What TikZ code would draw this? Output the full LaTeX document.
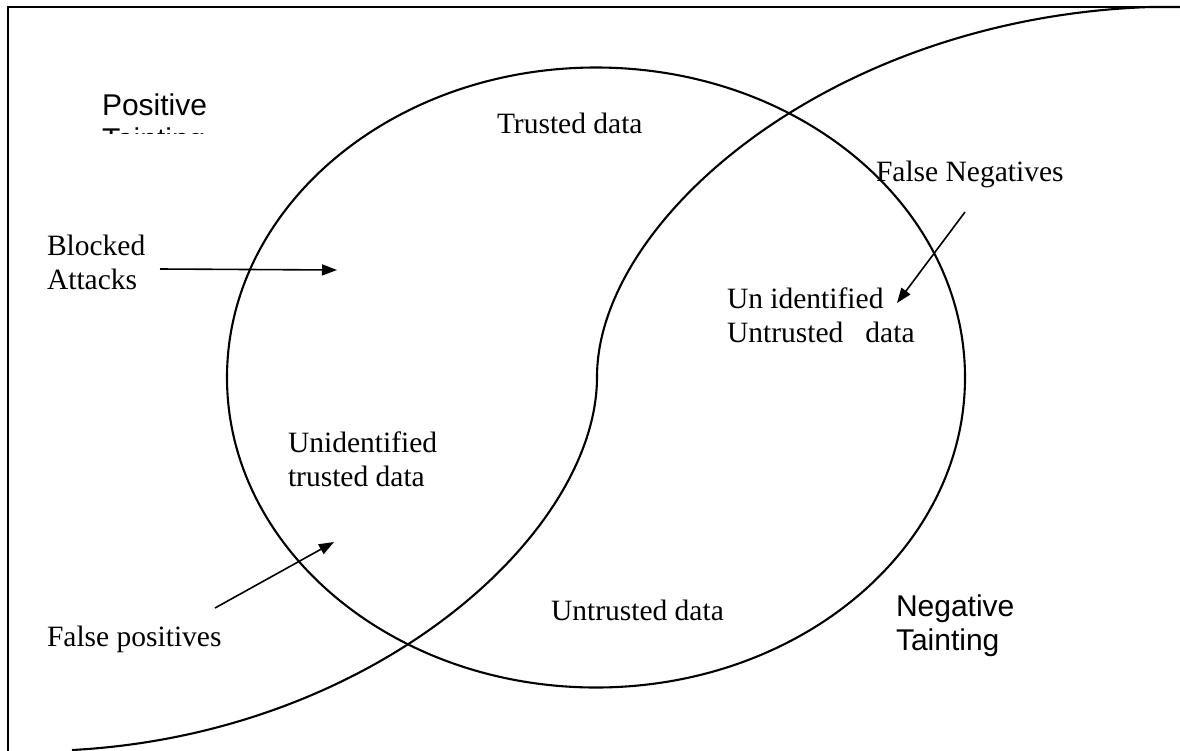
\documentclass[tikz,border=0pt]{standalone}
\usepackage{fontspec}
\setmainfont{Liberation Serif}
\newfontfamily\arialf{Liberation Sans}
\usetikzlibrary{arrows.meta}
\tikzset{
  lbl/.style={inner sep=0pt, outer sep=0pt, align=left, font=\fontsize{29.5}{34}\selectfont},
  albl/.style={inner sep=0pt, outer sep=0pt, align=left, font=\arialf\fontsize{30}{34}\selectfont},
  shape line/.style={line width=2.1pt, line join=round},
  arr/.style={line width=1.6pt, -{Triangle[length=15pt,width=11pt]}}
}
\begin{document}
\begin{tikzpicture}[x=1pt,y=-1pt]
\useasboundingbox (0,0) rectangle (1180,750);
\begin{scope}
\clip (0,0) rectangle (1180,750);
% frame
\draw[line width=2.2pt] (8,760) -- (8,7) -- (1190,7);
% ellipse
\draw[shape line] (596,377.5) ellipse [x radius=369, y radius=310];
% S-curve
\draw[shape line] (72,750) .. controls (374,734) and (597,534) .. (597,377)
  .. controls (597,220) and (830,18) .. (1150,7) -- (1190,7);
\end{scope}
% labels
\begin{scope}
\clip (80,80) rectangle (270,133);
\node[albl, anchor=base west] (pt) at (102,149) {Positive\\Tainting};
\end{scope}
\node[lbl, anchor=base west] (td) at (497,133) {Trusted data};
\node[lbl, anchor=base west] (fn) at (876,181) {False Negatives};
\node[lbl, anchor=west] (ba) at (47,262) {Blocked\\Attacks};
\node[lbl, anchor=west] (uu) at (727,315) {Un identified\\Untrusted\ \ \ data};
\node[lbl, anchor=west] (ut) at (288,459) {Unidentified\\trusted data};
\node[lbl, anchor=base west] (ud) at (551,620) {Untrusted data};
\node[lbl, anchor=base west] (fp) at (47,646) {False positives};
\node[albl, anchor=west] (nt) at (896,626) {Negative\\Tainting};
% arrows
\coordinate (baS) at (160,269);
\coordinate (baT) at (337,270);
\coordinate (fnS) at (965,212);
\coordinate (fnT) at (897,303);
\coordinate (fpS) at (215,608);
\coordinate (fpT) at (334,542);
\draw[arr] (baS) -- (baT);
\draw[arr] (fnS) -- (fnT);
\draw[arr] (fpS) -- (fpT);
\end{tikzpicture}
\end{document}
